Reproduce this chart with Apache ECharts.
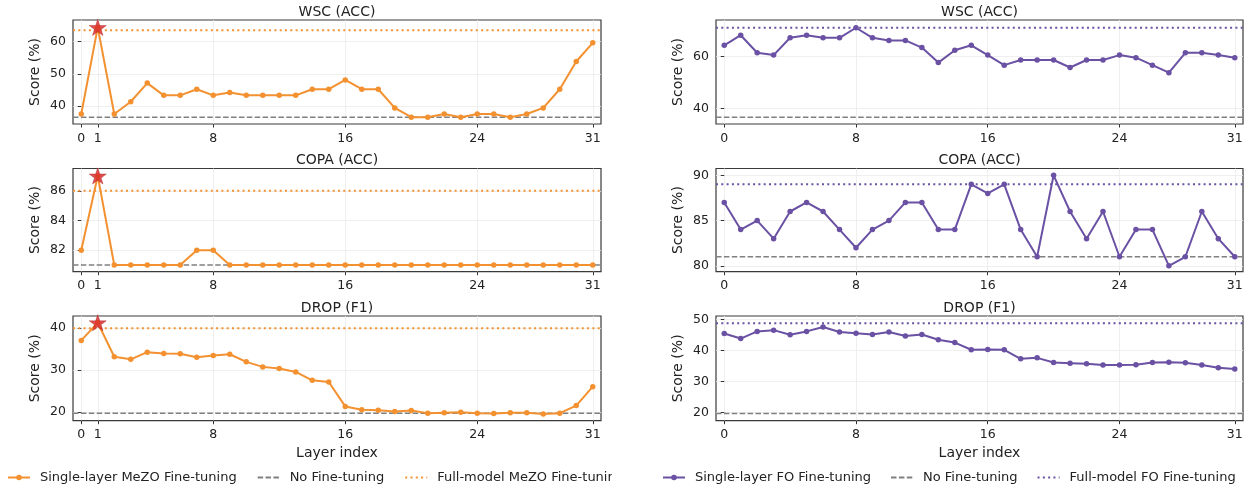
<!DOCTYPE html>
<html>
<head>
<meta charset="utf-8">
<script src="https://cdn.jsdelivr.net/npm/echarts@6/dist/echarts.min.js"></script>
<style>
  html, body { margin: 0; padding: 0; background: #fff; }
  #chart { width: 1252px; height: 490px; }
</style>
</head>
<body>
<div id="chart"></div>
<script>
// layer indices on the x axis
const layers = [0, 1, 2, 3, 4, 5, 6, 7, 8, 9, 10, 11, 12, 13, 14, 15,
  16, 17, 18, 19, 20, 21, 22, 23, 24, 25, 26, 27, 28, 29, 30, 31];

// single-layer MeZO fine-tuning (left column)
const mezoWsc = [37.5, 64.4, 37.5, 41.3, 47.1, 43.3, 43.3, 45.2, 43.3, 44.2, 43.3, 43.3, 43.3, 43.3, 45.2, 45.2,
  48.1, 45.2, 45.2, 39.4, 36.5, 36.5, 37.5, 36.5, 37.5, 37.5, 36.5, 37.5, 39.4, 45.2, 53.8, 59.6];
const mezoCopa = [82, 87, 81, 81, 81, 81, 81, 82, 82, 81, 81, 81, 81, 81, 81, 81,
  81, 81, 81, 81, 81, 81, 81, 81, 81, 81, 81, 81, 81, 81, 81, 81];
const mezoDrop = [37.0, 41.2, 33.1, 32.5, 34.2, 33.9, 33.8, 33.0, 33.4, 33.7, 31.9, 30.7, 30.3, 29.5, 27.5, 27.1,
  21.3, 20.5, 20.4, 20.1, 20.3, 19.7, 19.8, 19.9, 19.7, 19.6, 19.8, 19.8, 19.5, 19.7, 21.5, 26.0];

// single-layer FO fine-tuning (right column)
const foWsc = [64.4, 68.3, 61.5, 60.6, 67.3, 68.3, 67.3, 67.3, 71.2, 67.3, 66.3, 66.3, 63.5, 57.7, 62.5, 64.4,
  60.6, 56.7, 58.7, 58.7, 58.7, 55.8, 58.7, 58.7, 60.6, 59.6, 56.7, 53.8, 61.5, 61.5, 60.6, 59.6];
const foCopa = [87, 84, 85, 83, 86, 87, 86, 84, 82, 84, 85, 87, 87, 84, 84, 89,
  88, 89, 84, 81, 90, 86, 83, 86, 81, 84, 84, 80, 81, 86, 83, 81];
const foDrop = [45.4, 43.8, 46.1, 46.5, 45.0, 46.1, 47.5, 45.9, 45.5, 45.1, 45.9, 44.6, 45.1, 43.4, 42.5, 40.2,
  40.3, 40.2, 37.3, 37.6, 36.1, 35.9, 35.7, 35.3, 35.3, 35.4, 36.1, 36.2, 36.0, 35.3, 34.4, 34.0];

// reference levels: [WSC, COPA, DROP]
const noFineTuning = [36.5, 81, 19.7];
const fullMezo = [63.5, 86, 39.9];
const fullFo = [71.2, 89, 48.7];
const bestMezoLayer = 1;

// tick labels
const tasks = ['WSC (ACC)', 'COPA (ACC)', 'DROP (F1)'];
const xTicksMezo = [0, 1, 8, 16, 24, 31];
const xTicksFo = [0, 8, 16, 24, 31];
const yTicksMezo = [[40, 50, 60], [82, 84, 86], [20, 30, 40]];
const yTicksFo = [[40, 60], [80, 85, 90], [20, 30, 40, 50]];
const yRangeMezo = [[34.4, 66.7], [80.55, 87.5], [17.9, 42.8]];
const yRangeFo = [[33.9, 74.2], [79.35, 90.75], [17.4, 51.05]];
const X_MIN = -0.5, X_MAX = 31.5;

const FONT = 'DejaVu Sans';
const ORANGE = '#F39130', PURPLE = '#6A51A3', GREY = '#808080', RED = '#D62728';
const STAR = 'path://M50,0 L61.8,35.1 L98.1,35.1 L68.8,56.8 L79.4,91.3 L50,70 L20.6,91.3 L31.2,56.8 L1.9,35.1 L38.2,35.1 Z';

const cols = [{ left: 73, width: 528 }, { left: 716, width: 527 }];
const rows = [{ top: 20, height: 104 }, { top: 168.5, height: 103.2 }, { top: 316, height: 104.7 }];

const columns = [
  { color: ORANGE, main: 'Single-layer MeZO Fine-tuning', fullName: 'Full-model MeZO Fine-tuning',
    values: [mezoWsc, mezoCopa, mezoDrop], full: fullMezo, xTicks: xTicksMezo,
    yTicks: yTicksMezo, yRange: yRangeMezo, star: true, legendLeft: 7, legendGap: 20 },
  { color: PURPLE, main: 'Single-layer FO Fine-tuning', fullName: 'Full-model FO Fine-tuning',
    values: [foWsc, foCopa, foDrop], full: fullFo, xTicks: xTicksFo,
    yTicks: yTicksFo, yRange: yRangeFo, star: false, legendLeft: 662, legendGap: 19 }
];

const grid = [], xAxis = [], yAxis = [], series = [], graphic = [];
const labelStyle = { fontFamily: FONT, fontSize: 12.5, color: '#222' };
const nameStyle = { fontFamily: FONT, fontSize: 14, color: '#222' };

columns.forEach((c, ci) => {
  rows.forEach((r, ri) => {
    const gi = grid.length;
    grid.push({ left: cols[ci].left, top: r.top, width: cols[ci].width, height: r.height,
      show: true, borderColor: '#3a3a3a', borderWidth: 1.2, containLabel: false });
    xAxis.push({
      gridIndex: gi, type: 'value', min: X_MIN, max: X_MAX,
      axisLine: { show: false },
      axisTick: { show: true, customValues: c.xTicks, length: 3.5, lineStyle: { color: '#333' } },
      axisLabel: Object.assign({ customValues: c.xTicks, margin: 8 }, labelStyle),
      splitLine: { show: true, lineStyle: { color: '#ebebeb', width: 0.8 } },
      name: ri === 2 ? 'Layer index' : '', nameLocation: 'middle', nameGap: 26,
      nameTextStyle: nameStyle
    });
    yAxis.push({
      gridIndex: gi, type: 'value', min: c.yRange[ri][0], max: c.yRange[ri][1],
      axisLine: { show: false },
      axisTick: { show: true, customValues: c.yTicks[ri], length: 3.5, lineStyle: { color: '#333' } },
      axisLabel: Object.assign({ customValues: c.yTicks[ri], margin: 7 }, labelStyle),
      splitLine: { show: true, lineStyle: { color: '#ebebeb', width: 0.8 } },
      name: 'Score (%)', nameLocation: 'middle', nameGap: 31, nameRotate: 90,
      nameTextStyle: nameStyle
    });
    const vals = c.values[ri];
    series.push({
      name: 'No Fine-tuning', type: 'line', xAxisIndex: gi, yAxisIndex: gi,
      data: [[X_MIN, noFineTuning[ri]], [X_MAX, noFineTuning[ri]]],
      symbol: 'none', lineStyle: { color: GREY, width: 1.5, type: [5.5, 2.4] },
      itemStyle: { color: GREY }, z: 2, silent: true
    });
    series.push({
      name: c.fullName, type: 'line', xAxisIndex: gi, yAxisIndex: gi,
      data: [[X_MIN, c.full[ri]], [X_MAX, c.full[ri]]],
      symbol: 'none', lineStyle: { color: c.color, width: 2, type: [2, 3.3] },
      itemStyle: { color: c.color }, z: 2, silent: true
    });
    series.push({
      name: c.main, type: 'line', xAxisIndex: gi, yAxisIndex: gi,
      data: layers.map((l, k) => [l, vals[k]]),
      symbol: 'circle', symbolSize: 5.5, showAllSymbol: true,
      lineStyle: { color: c.color, width: 2 }, itemStyle: { color: c.color }, z: 3
    });
    if (c.star) {
      series.push({
        name: 'best', type: 'scatter', xAxisIndex: gi, yAxisIndex: gi,
        data: [[bestMezoLayer, vals[bestMezoLayer]]],
        symbol: STAR, symbolSize: 17, symbolKeepAspect: true,
        itemStyle: { color: RED, borderColor: '#b01818', borderWidth: 0.5 }, z: 5
      });
    }
    graphic.push({
      type: 'text', x: cols[ci].left + cols[ci].width / 2, y: r.top - 1, z: 10,
      style: { text: tasks[ri], font: '14px "DejaVu Sans"', fill: '#222',
        textAlign: 'center', textVerticalAlign: 'bottom' }
    });
  });
});

// the left legend runs into the right subfigure and is cut off there
graphic.push({ type: 'rect', shape: { x: 612, y: 462, width: 40, height: 28 },
  style: { fill: '#fff' }, z: 100 });

const legend = columns.map(c => ({
  data: [c.main,
    { name: 'No Fine-tuning', itemStyle: { opacity: 0 } },
    { name: c.fullName, itemStyle: { opacity: 0 } }],
  left: c.legendLeft, top: 471, width: 700, padding: 0,
  itemWidth: 22, itemHeight: 7, itemGap: c.legendGap,
  textStyle: Object.assign({}, labelStyle, { fontSize: 13, padding: [0, 0, 0, 5] })
}));

const chart = echarts.init(document.getElementById('chart'));
chart.setOption({
  animation: false,
  backgroundColor: '#fff',
  grid, xAxis, yAxis, series, legend, graphic
});
</script>
</body>
</html>
